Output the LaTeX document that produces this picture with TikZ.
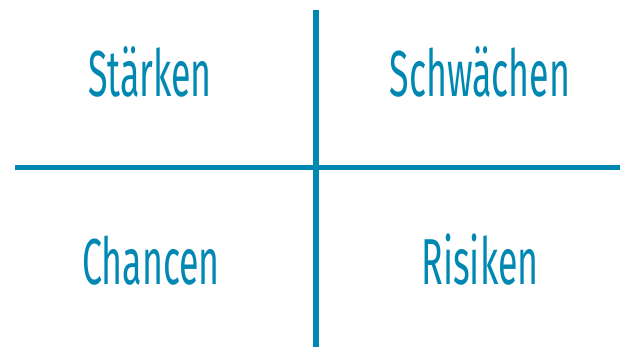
\documentclass[tikz,border=0pt]{standalone}
\usepackage{fontspec}
\newfontfamily\swotfont[FakeStretch=0.55]{Fira Sans}
\usetikzlibrary{positioning}
\definecolor{swotblue}{HTML}{0088B3}

\begin{document}
\begin{tikzpicture}[x=1pt,y=1pt,
    axis/.style={line width=5.5pt,swotblue},
    field/.style={anchor=base,text=swotblue,inner sep=0pt,
      font=\swotfont\fontsize{65}{65}\selectfont}]
        \useasboundingbox (0,0) rectangle (622,-347);
        % cross
        \coordinate (top) at (316,-10);
        \coordinate (bottom) at (316,-347);
        \coordinate (left) at (15,-167.5);
        \coordinate (right) at (620,-167.5);
        \draw[axis] (top)--(bottom);
        \draw[axis] (left)--(right);
        % quadrants
        \node[field] (staerken) at (150,-97) {Stärken};
        \node[field] (schwaechen) at (480,-97) {Schwächen};
        \node[field] (chancen) at (151,-285) {Chancen};
        \node[field] (risiken) at (480,-285) {Risiken};
      \end{tikzpicture}
\end{document}
